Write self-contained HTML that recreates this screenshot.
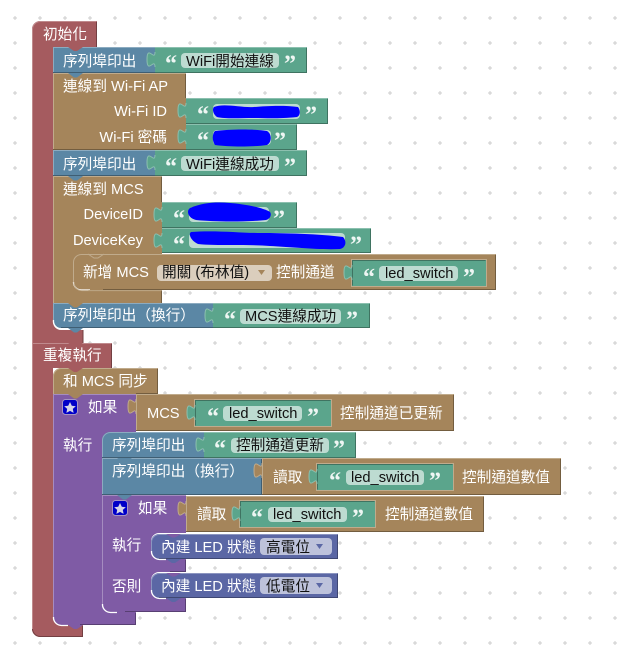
<!DOCTYPE html>
<html><head><meta charset="utf-8"><style>
html,body{margin:0;padding:0;background:#fff;width:629px;height:661px;overflow:hidden}
svg{display:block}
text{font-family:"Liberation Sans","Noto Sans CJK TC",sans-serif;font-size:14.67px;fill:#fff}
text.p{fill:#111}
text.q{font-family:"Liberation Serif",serif;font-weight:bold;font-size:24px;fill:#eef6f3}
.r{fill:#a55b5f}.b{fill:#5b87a5}.g{fill:#5ba58c}.n{fill:#a5855b}.u{fill:#7f5ba5}.i{fill:#5b67a5}
path,line{shape-rendering:geometricPrecision}
.rl,.bl,.gl,.nl,.ul,.il,.rd,.bd,.gd,.nd,.ud,.id,.w{fill:none;stroke-width:1}
.rl{stroke:#c08a8d}.bl{stroke:#8cabc0}.gl{stroke:#8cc0af}.nl{stroke:#c0ab8c}.ul{stroke:#a58cc0}.il{stroke:#8c95c0}
.rd{stroke:#733f42}.bd{stroke:#3f5e73}.gd{stroke:#3f7361}.nd{stroke:#735d3f}.ud{stroke:#583f73}.id{stroke:#3f4773}
.w{stroke:#fff;stroke-width:1.3}
.gp{fill:#bddbd1}.np{fill:#dbcebd}.ip{fill:#bdc2db}
.s{fill:#00f}
</style></head><body>
<svg width="629" height="661" viewBox="0 0 629 661" xmlns="http://www.w3.org/2000/svg">
<defs><pattern id="d" width="25" height="25" patternUnits="userSpaceOnUse"><path d="M13 18h4M15 16v4" stroke="#ccc" stroke-width="1" fill="none"/></pattern></defs>
<rect width="629" height="661" fill="url(#d)"/>

<!-- red -->
<path class="r" d="M32 29a8 8 0 0 1 8-8H97V47H53V322a8 8 0 0 0 8 8H83V343H32z"/>
<path class="rl" d="M32.5 343V29a8 8 0 0 1 8-7.500H96.500"/>
<path class="rd" d="M96.500 22V47M83 330V343"/>
<path class="r" d="M32 343H112V368H53V617a8 8 0 0 0 8 8H83V637H40a8 8 0 0 1-8-8z"/>
<path class="rl" d="M32.500 629V343.500H111.500"/>
<path class="rd" d="M111.500 344V368M82.500 626V636.500H40a8 8 0 0 1-7.500-7.500"/>
<path class="r" d="M68 343l6 4h3l6-4z"/>

<!-- block row 1 -->
<path class="b" d="M53 47H155V73H53z"/><path class="bl" d="M53.500 73V47.500H155"/><path class="bd" d="M53 72.500H155"/>
<path class="g" d="M155 47H307V73H155z"/><path class="gl" d="M155 47.500H306.500"/><path class="gd" d="M306.500 48V72.500H155"/>
<path class="g" d="M155 52c0 10-8-8-8 7.500s8-2.500 8 7.500z"/><path class="gl" d="M155 52c0 10-8-8-8 7.500s8-2.500 8 7.500"/>

<!-- wifi ap -->
<path class="n" d="M53 73H186V150H53z"/><path class="nl" d="M53.500 150V73.500H186"/><path class="nd" d="M185.500 74V98M53 149.500H186"/>
<path class="b" d="M68 73l6 4.500h3l6-4.500z"/>
<path class="g" d="M186 98H328V124H186z"/><path class="gl" d="M186 98.500H327.500"/><path class="gd" d="M327.500 99V123.500H186"/>
<path class="g" d="M186 103c0 10-8-8-8 7.500s8-2.500 8 7.500z"/><path class="gl" d="M186 103c0 10-8-8-8 7.500s8-2.500 8 7.500"/>
<path class="g" d="M186 124H297V150H186z"/><path class="gl" d="M186 124.500H296.500"/><path class="gd" d="M296.500 125V149.500H186"/>
<path class="g" d="M186 129c0 10-8-8-8 7.500s8-2.500 8 7.500z"/><path class="gl" d="M186 129c0 10-8-8-8 7.500s8-2.500 8 7.500"/>

<!-- row 2 -->
<path class="b" d="M53 150H155V176H53z"/><path class="bl" d="M53.500 176V150.500H155"/><path class="bd" d="M53 175.500H155"/>
<path class="g" d="M155 150H307V176H155z"/><path class="gl" d="M155 150.500H306.500"/><path class="gd" d="M306.500 151V175.500H155"/>
<path class="g" d="M155 155c0 10-8-8-8 7.500s8-2.500 8 7.500z"/><path class="gl" d="M155 155c0 10-8-8-8 7.500s8-2.500 8 7.500"/>
<path class="n" d="M68 150l6 0h3l6 0z"/>

<!-- connect MCS -->
<path class="n" d="M53 176H162V303H53z"/><path class="nl" d="M53.500 303V176.500H162"/><path class="nd" d="M161.500 177V202M161.500 290V303"/>
<path class="b" d="M68 176l6 4.500h3l6-4.500z"/>
<path class="g" d="M162 202H297V228H162z"/><path class="gl" d="M162 202.500H296.500"/><path class="gd" d="M296.500 203V227.500H162"/>
<path class="g" d="M162 207c0 10-8-8-8 7.500s8-2.500 8 7.500z"/><path class="gl" d="M162 207c0 10-8-8-8 7.500s8-2.500 8 7.500"/>
<path class="g" d="M162 228H371V253H162z"/><path class="gl" d="M162 228.500H370.500"/><path class="gd" d="M370.500 229V252.500H162"/>
<path class="g" d="M162 233c0 10-8-8-8 7.500s8-2.500 8 7.500z"/><path class="gl" d="M162 233c0 10-8-8-8 7.500s8-2.500 8 7.500"/>

<!-- add MCS -->
<path class="n" d="M81 254H496V290H81a8 8 0 0 1-8-8V262a8 8 0 0 1 8-8z"/>
<path class="nl" d="M73.500 282V262a8 8 0 0 1 8-7.500H495.500"/><path class="nd" d="M495.500 255V289.500H103"/>
<path class="w" d="M73.500 282a8 8 0 0 0 8 8H90"/>
<path class="nl" d="M88 254l6 4h4l6-4" /><path class="n" d="M88 290l6 4h4l6-4z"/>
<path class="nl" d="M74 282a8 8 0 0 0 8 8.600H162" opacity=".9"/>
<path d="M352 260H486V286H352z" fill="none" stroke="#c0ab8c" stroke-width="2"/>
<path class="g" d="M352 260H486V286H352z"/><path class="gd" d="M485.500 260.500H352.500V285.500"/>
<path class="g" d="M352 265c0 10-8-8-8 7.500s8-2.500 8 7.500z"/><path class="gl" d="M352 265c0 10-8-8-8 7.500s8-2.500 8 7.500"/>

<!-- row 4 -->
<path class="b" d="M53 303H213V328H61a8 8 0 0 1-8-8z"/><path class="bl" d="M53.500 320V303.500H213"/><path class="bd" d="M61 327.500H213"/>
<path class="w" d="M53.500 320a8 8 0 0 0 8 9H68"/>
<path class="n" d="M68 303l6 4.500h3l6-4.500z"/><path class="b" d="M68 328l6 4.500h3l6-4.500z"/>
<path class="g" d="M213 303H370V328H213z"/><path class="gl" d="M213 303.500H369.500"/><path class="gd" d="M369.500 304V327.500H213"/>
<path class="g" d="M213 308c0 10-8-8-8 7.500s8-2.500 8 7.500z"/><path class="gl" d="M213 308c0 10-8-8-8 7.500s8-2.500 8 7.500"/>

<!-- purple outer -->
<path class="u" d="M53 394H136V625H61a8 8 0 0 1-8-8z"/>
<path class="ul" d="M53.500 617V394.500H136"/><path class="ud" d="M135.500 613V624.500H80"/>
<path class="w" d="M53.500 617a8 8 0 0 0 8 8.500H68"/>
<path class="u" d="M68 625l6 4h3l6-4z"/>

<!-- sync -->
<path class="n" d="M61 368H158V394H53V376a8 8 0 0 1 8-8z"/><path class="nl" d="M53.500 394V376a8 8 0 0 1 8-7.500H157.500"/><path class="nd" d="M157.500 369V393.500H136"/>
<path class="n" d="M68 394l6 4.500h3l6-4.500z"/><path class="r" d="M68 368l6 4h3l6-4z"/>

<!-- MCS if cond -->
<path class="n" d="M136 394H454V431H136z"/><path class="nl" d="M136 394.500H453.500M136.500 395V431"/><path class="nd" d="M453.500 395V430.500H136"/>
<path class="n" d="M136 399c0 10-8-8-8 7.500s8-2.500 8 7.500z"/><path class="nl" d="M136 399c0 10-8-8-8 7.500s8-2.500 8 7.500"/>
<path d="M195 400H331V426H195z" fill="none" stroke="#c0ab8c" stroke-width="2"/>
<path class="g" d="M195 400H331V426H195z"/><path class="gd" d="M330.500 400.500H195.500V425.500"/>
<path class="g" d="M195 405c0 10-8-8-8 7.500s8-2.500 8 7.500z"/><path class="gl" d="M195 405c0 10-8-8-8 7.500s8-2.500 8 7.500"/>

<!-- blue inside -->
<path class="b" d="M110 432H204V458H102V440a8 8 0 0 1 8-8z"/><path class="bl" d="M102.500 458V440a8 8 0 0 1 8-7.500H204"/><path class="bd" d="M102 457.500H204"/>
<path class="g" d="M204 432H356V458H204z"/><path class="gl" d="M204 432.500H355.500"/><path class="gd" d="M355.500 433V457.500H204"/>
<path class="g" d="M204 437c0 10-8-8-8 7.500s8-2.500 8 7.500z"/><path class="gl" d="M204 437c0 10-8-8-8 7.500s8-2.500 8 7.500"/>
<path class="b" d="M102 458H262V495H102z"/><path class="bl" d="M102.500 495V458.500H262"/><path class="bd" d="M261.500 459V494.500H102"/>
<path class="b" d="M117 458l6 4.500h3l6-4.500z"/>
<path class="n" d="M262 458H561V495H262z"/><path class="nl" d="M262 458.500H560.500M262.500 459V495"/><path class="nd" d="M560.500 459V494.500H262"/>
<path class="n" d="M262 463c0 10-8-8-8 7.500s8-2.500 8 7.500z"/><path class="nl" d="M262 463c0 10-8-8-8 7.500s8-2.500 8 7.500"/>
<path d="M317 464H453V490H317z" fill="none" stroke="#c0ab8c" stroke-width="2"/>
<path class="g" d="M317 464H453V490H317z"/><path class="gd" d="M452.500 464.500H317.500V489.500"/>
<path class="g" d="M317 469c0 10-8-8-8 7.500s8-2.500 8 7.500z"/><path class="gl" d="M317 469c0 10-8-8-8 7.500s8-2.500 8 7.500"/>

<!-- inner if -->
<path class="u" d="M102 495H186V533H159a8 8 0 0 0-8 8V551a8 8 0 0 0 8 8H186V572H159a8 8 0 0 0-8 8V590a8 8 0 0 0 8 8H186V612H110a8 8 0 0 1-8-8z"/>
<path class="ul" d="M102.500 604V495.500H186"/><path class="ud" d="M185.500 599V611.500H125M185.500 560V571.500H170"/>
<path class="w" d="M102.500 604a8 8 0 0 0 8 8.500H117"/>
<path class="b" d="M117 495l6 4.500h3l6-4.500z"/><path class="u" d="M117 612l6 4h3l6-4z"/>
<path class="n" d="M186 496H484V532H186z"/><path class="nl" d="M186 496.500H483.500M186.500 497V532"/><path class="nd" d="M483.500 497V531.500H186"/>
<path class="n" d="M186 501c0 10-8-8-8 7.500s8-2.500 8 7.500z"/><path class="nl" d="M186 501c0 10-8-8-8 7.500s8-2.500 8 7.500"/>
<path d="M240 501H375V527H240z" fill="none" stroke="#c0ab8c" stroke-width="2"/>
<path class="g" d="M240 501H375V527H240z"/><path class="gd" d="M374.500 501.500H240.500V526.500"/>
<path class="g" d="M240 506c0 10-8-8-8 7.500s8-2.500 8 7.500z"/><path class="gl" d="M240 506c0 10-8-8-8 7.500s8-2.500 8 7.500"/>

<!-- LED blocks -->
<path class="i" d="M159 534H338V559H159a8 8 0 0 1-8-8V542a8 8 0 0 1 8-8z"/><path class="il" d="M151.500 551V542a8 8 0 0 1 8-7.500H337.500"/><path class="id" d="M337.500 535V558.500H159"/>
<path class="w" d="M151.500 551a8 8 0 0 0 8 8.500H166"/><path class="i" d="M166 559l6 4h3l6-4z"/><path class="u" d="M166 534l6 3.500h3l6-3.500z"/>
<path class="i" d="M159 573H338V598H159a8 8 0 0 1-8-8V581a8 8 0 0 1 8-8z"/><path class="il" d="M151.500 590V581a8 8 0 0 1 8-7.500H337.500"/><path class="id" d="M337.500 574V597.500H159"/>
<path class="w" d="M151.500 590a8 8 0 0 0 8 8.500H166"/><path class="i" d="M166 598l6 4h3l6-4z"/><path class="u" d="M166 573l6 3.500h3l6-3.500z"/>

<!-- notch of row1/green -->
<path class="r" d="M68 47l6 4h3l6-4z"/>
<path class="b" d="M68 176l6 4.500h3l6-4.500z"/>

<!-- pills -->
<rect class="gp" x="181" y="53" width="98" height="15" rx="4"/>
<rect class="gp" x="213" y="104" width="87" height="15" rx="4"/>
<rect class="gp" x="213" y="130" width="58" height="15" rx="4"/>
<rect class="gp" x="181" y="156" width="98" height="15" rx="4"/>
<rect class="gp" x="189" y="207" width="80" height="15" rx="4"/>
<rect class="gp" x="189" y="233" width="156" height="15" rx="4"/>
<rect class="gp" x="379" y="266" width="79" height="15" rx="4"/>
<rect class="gp" x="240" y="309" width="101" height="15" rx="4"/>
<rect class="gp" x="223" y="406" width="79" height="15" rx="4"/>
<rect class="gp" x="231" y="438" width="98" height="15" rx="4"/>
<rect class="gp" x="346" y="470" width="78" height="15" rx="4"/>
<rect class="gp" x="268" y="507" width="79" height="15" rx="4"/>
<rect class="np" x="157" y="265" width="115" height="16" rx="4"/>
<rect class="ip" x="260" y="538" width="72" height="17" rx="4"/>
<rect class="ip" x="260" y="577" width="72" height="17" rx="4"/>
<path d="M258 270h7l-3.500 5z" fill="#a5855b"/>
<path d="M316 544h7l-3.500 5z" fill="#5b67a5"/>
<path d="M316 583h7l-3.500 5z" fill="#5b67a5"/>

<!-- star buttons -->
<rect x="62.500" y="399.500" width="15" height="15" rx="3" fill="#0000c8" stroke="#a594c4"/>
<path d="M70 402l1.800 3.700 4 .5-3 2.700.8 4-3.600-2-3.600 2 .8-4-3-2.700 4-.5z" fill="#d4d4e8"/>
<rect x="112.500" y="500.500" width="15" height="15" rx="3" fill="#0000c8" stroke="#a594c4"/>
<path d="M120 503l1.800 3.700 4 .5-3 2.700.8 4-3.600-2-3.600 2 .8-4-3-2.700 4-.5z" fill="#d4d4e8"/>

<!-- labels -->
<text x="43" y="39">初始化</text>
<text x="63" y="66">序列埠印出</text>
<text class="q" x="165" y="71.500">“</text><text class="p" x="186" y="66">WiFi開始連線</text><text class="q" x="284" y="71.500">”</text>
<text x="63" y="91">連線到 Wi-Fi AP</text>
<text x="167" y="116" text-anchor="end">Wi-Fi ID</text>
<text x="167" y="142" text-anchor="end">Wi-Fi 密碼</text>
<text class="q" x="197" y="122.500">“</text><text class="q" x="305" y="122.500">”</text>
<text class="q" x="197" y="148.500">“</text><text class="q" x="274" y="148.500">”</text>
<path class="s" d="M214 107c10-4 28 1 40 0s30-2 44 0c3 4 2 9-1 10-20 2-32 1-44 1s-28 1-36-1c-4-3-5-8-3-10z"/>
<path class="s" d="M215 131c16-2 40-2 52 0 5 3 5 11 0 14-14 2-38 2-52 0-3-4-3-11 0-14z"/>
<text x="63" y="169">序列埠印出</text>
<text class="q" x="165" y="174.500">“</text><text class="p" x="186" y="169">WiFi連線成功</text><text class="q" x="284" y="174.500">”</text>
<text x="63" y="194">連線到 MCS</text>
<text x="143" y="219" text-anchor="end">DeviceID</text>
<text x="143" y="245" text-anchor="end">DeviceKey</text>
<text class="q" x="173" y="226.500">“</text><text class="q" x="273" y="226.500">”</text>
<text class="q" x="173" y="252.500">“</text><text class="q" x="350" y="252.500">”</text>
<path class="s" d="M190 208c14-6 28-6 40-5s32 4 40 9c2 3 0 7-4 8-20 2-50 2-70 0-8-2-10-9-6-12z"/>
<path class="s" d="M191 232c24-2 50 1 70 1 22 0 60 1 82 4 4 4 3 11-3 12-20 1-50-2-70-3-24-2-54 0-72-2-7-3-10-10-7-12z"/>
<text x="83" y="277">新增 MCS</text>
<text class="p" x="162" y="277">開關 (布林值)</text>
<text x="276" y="277">控制通道</text>
<text class="q" x="363" y="285">“</text><text class="p" x="385" y="278">led_switch</text><text class="q" x="463" y="285">”</text>
<text x="63" y="320">序列埠印出（換行）</text>
<text class="q" x="224" y="327.500">“</text><text class="p" x="245" y="321">MCS連線成功</text><text class="q" x="346" y="327.500">”</text>
<text x="43" y="360">重複執行</text>
<text x="63" y="386">和 MCS 同步</text>
<text x="88" y="412">如果</text>
<text x="147" y="418">MCS</text>
<text class="q" x="207" y="424.500">“</text><text class="p" x="229" y="418">led_switch</text><text class="q" x="307" y="424.500">”</text>
<text x="340" y="418">控制通道已更新</text>
<text x="63" y="450">執行</text>
<text x="112" y="450">序列埠印出</text>
<text class="q" x="214" y="456.500">“</text><text class="p" x="236" y="450">控制通道更新</text><text class="q" x="333" y="456.500">”</text>
<text x="112" y="476">序列埠印出（換行）</text>
<text x="273" y="482">讀取</text>
<text class="q" x="329" y="488.500">“</text><text class="p" x="351" y="482">led_switch</text><text class="q" x="429" y="488.500">”</text>
<text x="462" y="482">控制通道數值</text>
<text x="138" y="513">如果</text>
<text x="197" y="519">讀取</text>
<text class="q" x="251" y="525.500">“</text><text class="p" x="273" y="519">led_switch</text><text class="q" x="352" y="525.500">”</text>
<text x="385" y="519">控制通道數值</text>
<text x="112" y="550">執行</text>
<text x="161" y="552">內建 LED 狀態</text>
<text class="p" x="266" y="552">高電位</text>
<text x="112" y="591">否則</text>
<text x="161" y="591">內建 LED 狀態</text>
<text class="p" x="266" y="591">低電位</text>
</svg>
</body></html>
